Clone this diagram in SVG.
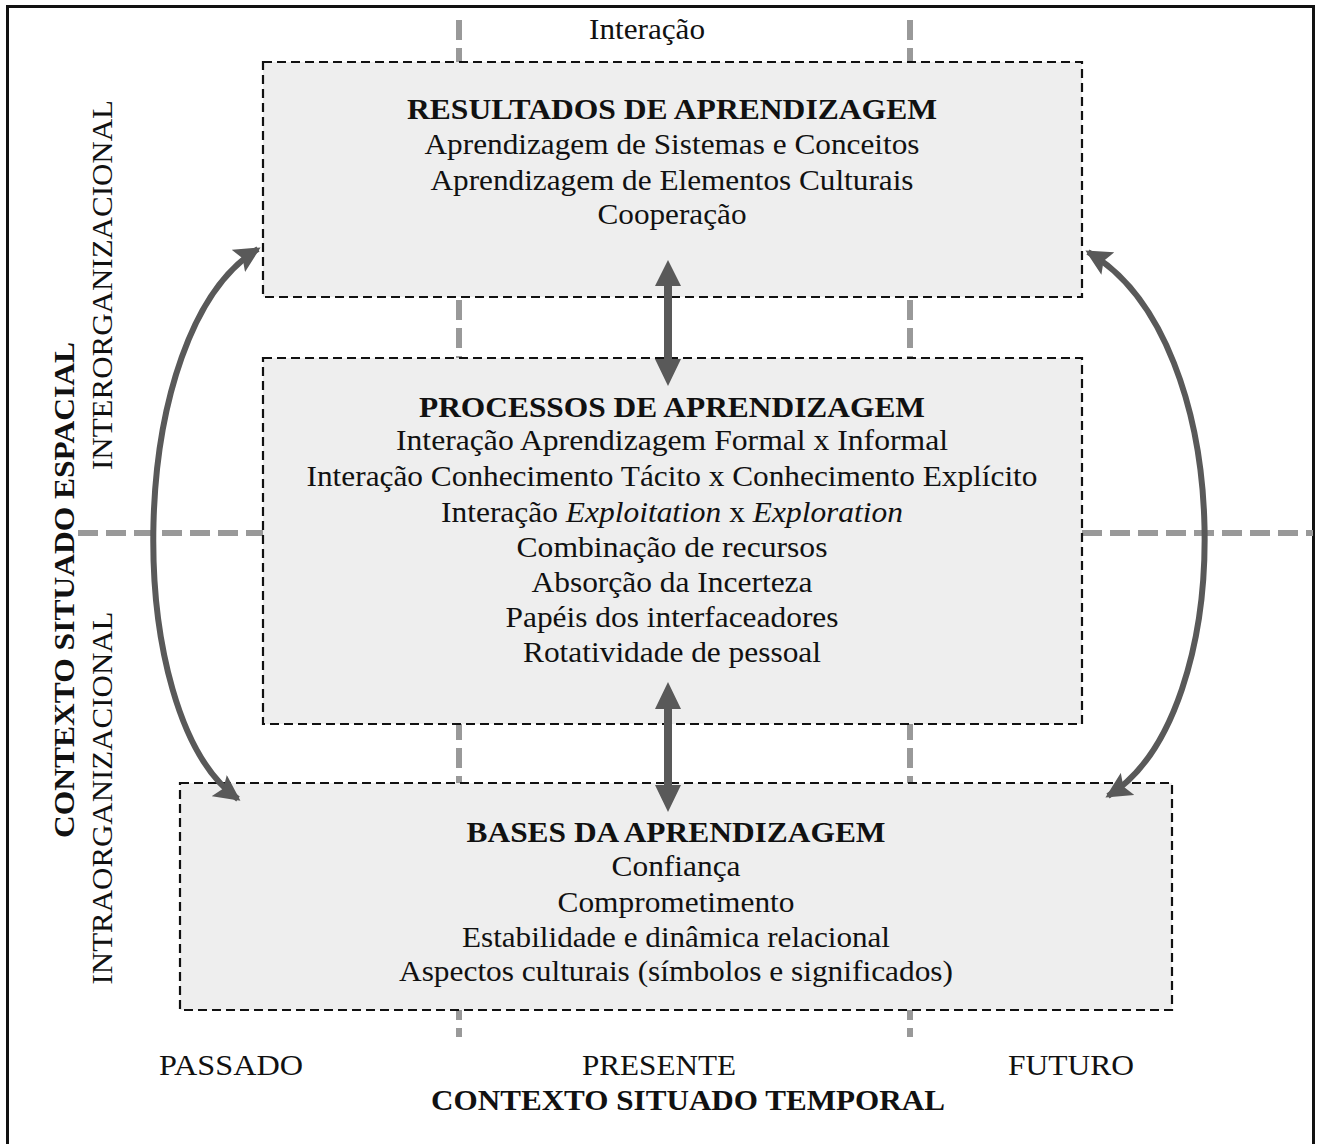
<svg xmlns="http://www.w3.org/2000/svg" width="1319" height="1144" viewBox="0 0 1319 1144">
<defs>
<style>
text{font-family:"Liberation Serif","Times New Roman",serif;font-size:30px;fill:#111;text-anchor:middle}
.b{font-weight:bold}
.box{fill:#eeeeee;stroke:#111;stroke-width:2.2;stroke-dasharray:9 5}
.grid{stroke:#999;stroke-width:6;stroke-dasharray:20 8;fill:none}
.curve{fill:none;stroke:#595959;stroke-width:6}
.arr{fill:#595959}
</style>
<marker id="ah" markerUnits="userSpaceOnUse" markerWidth="28" markerHeight="26" refX="23" refY="13" orient="auto-start-reverse" viewBox="0 0 28 26">
<path d="M0,0 L26,13 L0,26 L5,13 Z" fill="#595959"/>
</marker>
</defs>
<rect x="0" y="0" width="1319" height="1144" fill="#fff"/>
<rect x="7.5" y="6.5" width="1306" height="1150" fill="none" stroke="#111" stroke-width="3"/>
<g id="grid-lines">
<line class="grid" x1="459" y1="20" x2="459" y2="1037"/>
<line class="grid" x1="910" y1="20" x2="910" y2="1037"/>
<line class="grid" x1="78" y1="533" x2="263" y2="533"/>
<line class="grid" x1="1082" y1="533" x2="1313" y2="533"/>
</g>
<g id="resultados">
<rect class="box" x="263" y="62" width="819" height="235"/>
<text class="b" x="672" y="119" textLength="530" lengthAdjust="spacingAndGlyphs">RESULTADOS DE APRENDIZAGEM</text>
<text x="672" y="154" textLength="495" lengthAdjust="spacingAndGlyphs">Aprendizagem de Sistemas e Conceitos</text>
<text x="672" y="190" textLength="483" lengthAdjust="spacingAndGlyphs">Aprendizagem de Elementos Culturais</text>
<text x="672" y="224" textLength="149" lengthAdjust="spacingAndGlyphs">Cooperação</text>
</g>
<g id="processos">
<rect class="box" x="263" y="358" width="819" height="366"/>
<text class="b" x="672" y="417" textLength="506" lengthAdjust="spacingAndGlyphs">PROCESSOS DE APRENDIZAGEM</text>
<text x="672" y="450" textLength="552" lengthAdjust="spacingAndGlyphs">Interação Aprendizagem Formal x Informal</text>
<text x="672" y="486" textLength="731" lengthAdjust="spacingAndGlyphs">Interação Conhecimento Tácito x Conhecimento Explícito</text>
<text x="672" y="522" textLength="462" lengthAdjust="spacingAndGlyphs">Interação <tspan font-style="italic">Exploitation</tspan> x <tspan font-style="italic">Exploration</tspan></text>
<text x="672" y="557" textLength="311" lengthAdjust="spacingAndGlyphs">Combinação de recursos</text>
<text x="672" y="592" textLength="281" lengthAdjust="spacingAndGlyphs">Absorção da Incerteza</text>
<text x="672" y="627" textLength="333" lengthAdjust="spacingAndGlyphs">Papéis dos interfaceadores</text>
<text x="672" y="662" textLength="298" lengthAdjust="spacingAndGlyphs">Rotatividade de pessoal</text>
</g>
<g id="bases">
<rect class="box" x="180" y="783" width="992" height="227"/>
<text class="b" x="676" y="842" textLength="419" lengthAdjust="spacingAndGlyphs">BASES DA APRENDIZAGEM</text>
<text x="676" y="876" textLength="129" lengthAdjust="spacingAndGlyphs">Confiança</text>
<text x="676" y="912" textLength="237" lengthAdjust="spacingAndGlyphs">Comprometimento</text>
<text x="676" y="947" textLength="428" lengthAdjust="spacingAndGlyphs">Estabilidade e dinâmica relacional</text>
<text x="676" y="981" textLength="554" lengthAdjust="spacingAndGlyphs">Aspectos culturais (símbolos e significados)</text>
</g>
<g id="labels">
<text x="647" y="39" textLength="116" lengthAdjust="spacingAndGlyphs">Interação</text>
<text x="231" y="1075" textLength="144" lengthAdjust="spacingAndGlyphs">PASSADO</text>
<text x="659" y="1075" textLength="154" lengthAdjust="spacingAndGlyphs">PRESENTE</text>
<text x="1071" y="1075" textLength="126" lengthAdjust="spacingAndGlyphs">FUTURO</text>
<text class="b" x="688" y="1110" textLength="514" lengthAdjust="spacingAndGlyphs">CONTEXTO SITUADO TEMPORAL</text>
<text class="b" transform="translate(74,590) rotate(-90)" textLength="496" lengthAdjust="spacingAndGlyphs">CONTEXTO SITUADO ESPACIAL</text>
<text transform="translate(112,285) rotate(-90)" textLength="370" lengthAdjust="spacingAndGlyphs">INTERORGANIZACIONAL</text>
<text transform="translate(112,798) rotate(-90)" textLength="373" lengthAdjust="spacingAndGlyphs">INTRAORGANIZACIONAL</text>
</g>
<g id="connectors">
<polygon class="arr" points="668,260 681,286 672,286 672,359 681,359 668,386 655,359 664,359 664,286 655,286"/>
<polygon class="arr" points="668,682 681,709 672,709 672,785 681,785 668,812 655,785 664,785 664,709 655,709"/>
<path class="curve" d="M258,249 C124,330 120,715 238,799" marker-start="url(#ah)" marker-end="url(#ah)"/>
<path class="curve" d="M1088,252 C1240,340 1240,715 1108,796" marker-start="url(#ah)" marker-end="url(#ah)"/>
</g>
</svg>
